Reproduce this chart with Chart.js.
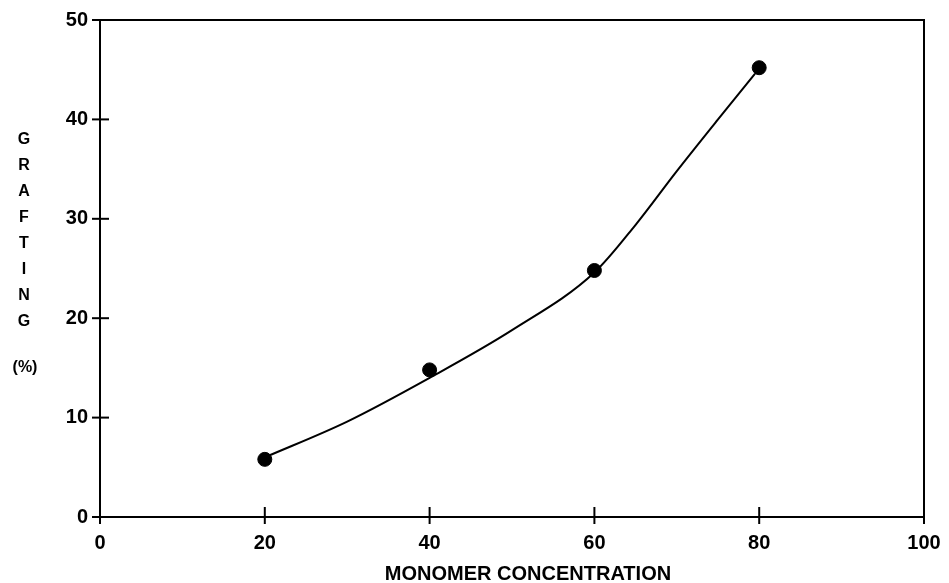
<!DOCTYPE html>
<html>
<head>
<meta charset="utf-8">
<script src="https://cdn.jsdelivr.net/npm/chart.js@4/dist/chart.umd.min.js"></script>
<style>
  html, body { margin: 0; padding: 0; background: #fff; }
  #wrap { width: 949px; height: 583px; position: relative; }
</style>
</head>
<body>
<div id="wrap"><canvas id="myChart" width="949" height="583"></canvas></div>
<script>
// measured points
const concentration = [20, 40, 60, 80];
const grafting = [5.8, 14.8, 24.8, 45.2];

// hand-drawn curve
const curveX = [20, 30, 40, 50, 60, 65, 70, 75, 79.5];
const curveY = [6.0, 9.6, 14.0, 18.8, 24.6, 29.4, 34.8, 40.0, 44.6];

const xTicks = [0, 20, 40, 60, 80, 100];
const yTicks = [0, 10, 20, 30, 40, 50];

const yTitle = ['G', 'R', 'A', 'F', 'T', 'I', 'N', 'G'];
const yUnit = '(%)';
const xTitle = 'MONOMER CONCENTRATION';

const boxAndTicks = {
  id: 'boxAndTicks',
  afterDraw(chart) {
    const ctx = chart.ctx;
    const a = chart.chartArea;
    const xs = chart.scales.x, ys = chart.scales.y;
    ctx.save();
    ctx.strokeStyle = '#000';
    ctx.lineWidth = 2;
    // top and right frame
    ctx.beginPath();
    ctx.moveTo(a.left, a.top);
    ctx.lineTo(a.right, a.top);
    ctx.lineTo(a.right, a.bottom);
    ctx.stroke();
    // y ticks (crossing the axis)
    yTicks.forEach(v => {
      const py = ys.getPixelForValue(v);
      ctx.beginPath();
      ctx.moveTo(a.left - 8, py);
      ctx.lineTo(v === 50 ? a.left : a.left + 9, py);
      ctx.stroke();
    });
    // x ticks
    xTicks.forEach(v => {
      const px = xs.getPixelForValue(v);
      ctx.beginPath();
      ctx.moveTo(px, a.bottom + 7);
      ctx.lineTo(px, (v === 0 || v === 100) ? a.bottom : a.bottom - 10);
      ctx.stroke();
    });
    // axis titles
    ctx.fillStyle = '#000';
    ctx.textAlign = 'center';
    ctx.textBaseline = 'middle';
    ctx.font = 'bold 16px "Liberation Sans", Arial, sans-serif';
    yTitle.forEach((ch, i) => ctx.fillText(ch, 24, 140 + i * 26));
    ctx.fillText(yUnit, 25, 368);
    ctx.font = 'bold 20px "Liberation Sans", Arial, sans-serif';
    ctx.fillText(xTitle, 528, 574);
    ctx.restore();
  }
};

const ctxP = document.getElementById('myChart').getContext('2d');
const myChart = new Chart(ctxP, {
  type: 'scatter',
  data: {
    datasets: [{
      data: concentration.map((c, i) => ({x: c, y: grafting[i]})),
      backgroundColor: '#000',
      borderColor: '#000',
      pointRadius: 7,
      pointHoverRadius: 7,
      showLine: false
    }, {
      data: curveX.map((c, i) => ({x: c, y: curveY[i]})),
      borderColor: '#000',
      borderWidth: 2,
      pointRadius: 0,
      showLine: true,
      cubicInterpolationMode: 'monotone'
    }]
  },
  options: {
    responsive: false,
    animation: false,
    events: [],
    layout: { padding: { top: 20, right: 25, left: 0, bottom: 0 } },
    plugins: { legend: { display: false }, tooltip: { enabled: false } },
    scales: {
      x: {
        type: 'linear', min: 0, max: 100,
        afterFit(s) { s.height = 66; s.paddingLeft = 0; s.paddingRight = 0; },
        afterBuildTicks(s) { s.ticks = xTicks.map(v => ({value: v})); },
        grid: { display: false, drawTicks: false },
        border: { display: true, color: '#000', width: 2 },
        ticks: {
          color: '#000', padding: 14, maxRotation: 0,
          font: { family: '"Liberation Sans", Arial, sans-serif', size: 20, weight: 'bold' }
        }
      },
      y: {
        min: 0, max: 50,
        afterFit(s) { s.width = 100; s.paddingTop = 0; s.paddingBottom = 0; },
        afterBuildTicks(s) { s.ticks = yTicks.map(v => ({value: v})); },
        grid: { display: false, drawTicks: false },
        border: { display: true, color: '#000', width: 2 },
        ticks: {
          color: '#000', padding: 12,
          font: { family: '"Liberation Sans", Arial, sans-serif', size: 20, weight: 'bold' }
        }
      }
    }
  },
  plugins: [boxAndTicks]
});
</script>
</body>
</html>
